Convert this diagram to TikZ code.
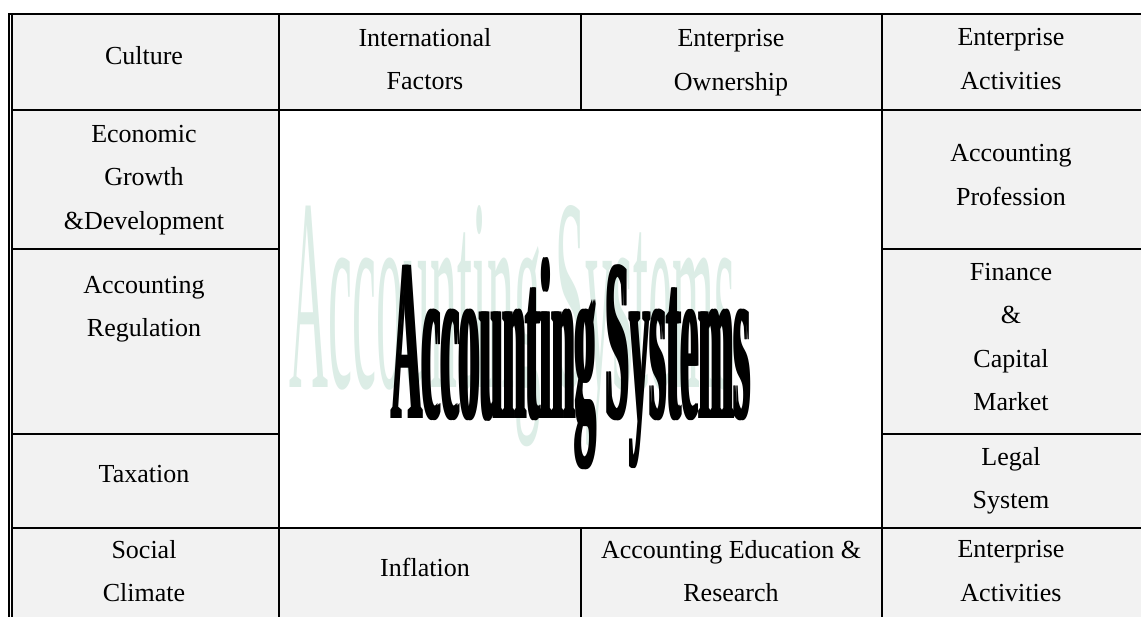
\documentclass[tikz,border=0pt]{standalone}
\usepackage{fontspec}
\setmainfont{Liberation Serif}
\usepackage{graphicx}
\definecolor{cellgray}{HTML}{F2F2F2}
\definecolor{ghostgreen}{HTML}{DCEDE6}
\newcommand{\titletext}{\resizebox{179pt}{80.5pt}{\fontsize{20}{20}\selectfont\bfseries Accounting Systems}}
\begin{document}
\begin{tikzpicture}[x=0.5pt,y=-0.5pt,
  cell/.style={fill=cellgray, draw=none, inner sep=0pt, outer sep=0pt},
  lbl/.style={font=\fontsize{13}{21.75}\selectfont, align=center, inner sep=0pt},
  rule/.style={line width=1pt, black},
  titlebox/.style={inner sep=0pt, anchor=base}]
\useasboundingbox (0,0) rectangle (1141,617);
\fill[white] (0,0) rectangle (1141,617);
% cells
\node[cell, minimum width=133.5pt, minimum height=48pt] (c11) at (145.5,62) {};
\node[cell, minimum width=151pt, minimum height=48pt] (c12) at (430,62) {};
\node[cell, minimum width=150.5pt, minimum height=48pt] (c13) at (731.5,62) {};
\node[cell, minimum width=129.5pt, minimum height=48pt] (c14) at (1011.5,62) {};
\node[cell, minimum width=133.5pt, minimum height=69.5pt] (c21) at (145.5,179.5) {};
\node[cell, minimum width=129.5pt, minimum height=69.5pt] (c24) at (1011.5,179.5) {};
\node[cell, minimum width=133.5pt, minimum height=92.5pt] (c31) at (145.5,341.5) {};
\node[cell, minimum width=129.5pt, minimum height=92.5pt] (c34) at (1011.5,341.5) {};
\node[cell, minimum width=133.5pt, minimum height=47pt] (c41) at (145.5,481) {};
\node[cell, minimum width=129.5pt, minimum height=47pt] (c44) at (1011.5,481) {};
\node[cell, minimum width=133.5pt, minimum height=44.5pt] (c51) at (145.5,572.5) {};
\node[cell, minimum width=151pt, minimum height=44.5pt] (c52) at (430,572.5) {};
\node[cell, minimum width=150.5pt, minimum height=44.5pt] (c53) at (731.5,572.5) {};
\node[cell, minimum width=129.5pt, minimum height=44.5pt] (c54) at (1011.5,572.5) {};
% labels
\node[lbl] (l11) at (144,56) {Culture};
\node[lbl] (l12) at (425,59) {International\\Factors};
\node[lbl] (l13) at (731,62.5) {Enterprise\\Ownership};
\node[lbl] (l14) at (1011,59) {Enterprise\\Activities};
\node[lbl] (l21) at (144,180) {Economic\\Growth\\\&Development};
\node[lbl] (l24) at (1011,175) {Accounting\\Profession};
\node[lbl] (l31) at (144,309) {Accounting\\Regulation};
\node[lbl] (l34) at (1011,337) {Finance\\\&\\Capital\\Market};
\node[lbl] (l41) at (144,474) {Taxation};
\node[lbl] (l44) at (1011,481) {Legal\\System};
\node[lbl] (l51) at (144,571) {Social\\Climate};
\node[lbl] (l52) at (425,567) {Inflation};
\node[lbl] (l53) at (731,571) {Accounting Education \&\\Research};
\node[lbl] (l54) at (1011,571) {Enterprise\\Activities};
% centre title
\node[titlebox, text=ghostgreen] (ghost) at (512.5,387)
  {\resizebox{222.5pt}{91pt}{\fontsize{20}{20}\selectfont Accounting Systems}};
\node[titlebox, xshift=-0.7pt] (titleL) at (571,418) {\titletext};
\node[titlebox, xshift=0.7pt] (titleR) at (571,418) {\titletext};
\node[titlebox] (title) at (571,418) {\titletext};
% rules
\draw[rule] (8,14) -- (1141,14);
\draw[rule] (9,14) -- (9,617);
\draw[rule] (12,14) -- (12,617);
\draw[rule] (279,14) -- (279,617);
\draw[rule] (882,14) -- (882,617);
\draw[rule] (581,14) -- (581,110);
\draw[rule] (581,528) -- (581,617);
\foreach \y in {110,249,434,528} {
  \draw[rule] (12,\y) -- (279,\y);
  \draw[rule] (882,\y) -- (1141,\y);
}
\draw[rule] (279,110) -- (882,110);
\draw[rule] (279,528) -- (882,528);
\end{tikzpicture}
\end{document}
